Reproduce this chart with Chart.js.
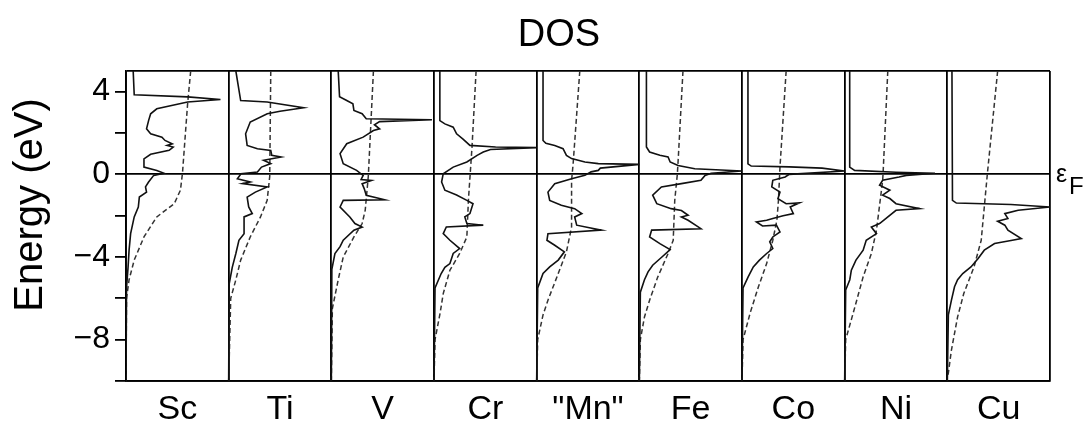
<!DOCTYPE html>
<html>
<head>
<meta charset="utf-8">
<title>DOS</title>
<script src="https://cdn.jsdelivr.net/npm/chart.js@4.4.1/dist/chart.umd.min.js"></script>
<style>
  html, body { margin: 0; padding: 0; background: #fff; }
  #dosChart { display: block; }
</style>
</head>
<body>
<canvas id="dosChart" width="1088" height="424"></canvas>
<script>
// panel names, left to right
const elements = ['Sc', 'Ti', 'V', 'Cr', '"Mn"', 'Fe', 'Co', 'Ni', 'Cu'];
const yTickValues = [-10, -8, -6, -4, -2, 0, 2, 4, 5];

// [energy (eV), DOS as fraction of panel width] - solid curves
const dosSc = [[5, 0.07], [3.85, 0.08], [3.75, 0.6], [3.62, 0.92], [3.5, 0.6], [3.17, 0.3], [2.93, 0.24], [2.6, 0.22], [2.2, 0.2], [1.96, 0.24], [1.8, 0.35], [1.64, 0.38], [1.48, 0.45], [1.4, 0.4], [1.32, 0.46], [1.16, 0.42], [0.97, 0.24], [0.75, 0.175], [0.35, 0.175], [0.19, 0.3], [0.05, 0.37], [-0.05, 0.27], [-0.37, 0.22], [-0.61, 0.19], [-0.86, 0.2], [-1.1, 0.13], [-1.58, 0.12], [-2.06, 0.08], [-2.87, 0.045], [-3.67, 0.03], [-4.5, 0.02], [-5.5, 0.005], [-10, 0]];
const dosTi = [[5, 0.07], [3.57, 0.117], [3.5, 0.375], [3.22, 0.73], [3.05, 0.5], [2.93, 0.376], [2.53, 0.21], [1.96, 0.165], [1.4, 0.18], [1.24, 0.28], [1.16, 0.41], [0.92, 0.42], [0.84, 0.51], [0.68, 0.34], [0.52, 0.41], [0.35, 0.32], [0.11, 0.28], [0.03, 0.12], [-0.21, 0.085], [-0.37, 0.21], [-0.45, 0.135], [-0.61, 0.375], [-0.86, 0.26], [-1.1, 0.18], [-1.58, 0.195], [-1.9, 0.23], [-2.06, 0.15], [-2.87, 0.15], [-3.19, 0.1], [-3.83, 0.07], [-4.5, 0.035], [-5.3, 0.005], [-10, 0]];
const dosV = [[5, 0.067], [3.75, 0.08], [3.57, 0.15], [3.41, 0.21], [3.09, 0.22], [2.93, 0.3], [2.69, 0.34], [2.64, 0.98], [2.55, 0.47], [2.4, 0.42], [2.2, 0.47], [2.12, 0.41], [1.8, 0.31], [1.48, 0.15], [1.0, 0.085], [0.51, 0.116], [0.19, 0.246], [-0.05, 0.31], [-0.25, 0.29], [-0.3, 0.39], [-0.45, 0.3], [-0.69, 0.32], [-1.01, 0.34], [-1.23, 0.52], [-1.26, 0.116], [-1.58, 0.085], [-2.06, 0.18], [-2.38, 0.23], [-2.55, 0.3], [-2.7, 0.22], [-3.19, 0.116], [-3.5, 0.085], [-3.83, 0.035], [-4.6, 0.005], [-10, 0]];
const dosCr = [[5, 0.057], [2.6, 0.057], [2.44, 0.106], [2.28, 0.187], [1.96, 0.22], [1.72, 0.28], [1.4, 0.35], [1.32, 0.6], [1.29, 1.0], [1.2, 0.55], [1.08, 0.48], [0.92, 0.42], [0.6, 0.32], [0.35, 0.187], [0.03, 0.09], [-0.37, 0.074], [-0.77, 0.106], [-1.0, 0.22], [-1.26, 0.32], [-1.42, 0.38], [-1.9, 0.35], [-2.06, 0.3], [-2.38, 0.32], [-2.46, 0.48], [-2.55, 0.12], [-2.87, 0.09], [-3.19, 0.155], [-3.59, 0.25], [-3.83, 0.187], [-4.32, 0.155], [-4.5, 0.106], [-4.8, 0.07], [-5.5, 0.01], [-10, 0]];
const dosMn = [[5, 0.062], [1.64, 0.062], [1.5, 0.09], [1.4, 0.176], [1.24, 0.257], [0.92, 0.29], [0.76, 0.34], [0.6, 0.47], [0.52, 0.6], [0.48, 1.0], [0.3, 0.62], [0.19, 0.6], [0.12, 0.53], [-0.05, 0.47], [-0.21, 0.34], [-0.45, 0.176], [-0.86, 0.11], [-1.26, 0.127], [-1.5, 0.24], [-1.66, 0.37], [-1.9, 0.44], [-2.06, 0.37], [-2.46, 0.39], [-2.7, 0.63], [-2.87, 0.11], [-3.19, 0.1], [-3.43, 0.176], [-3.75, 0.27], [-4.15, 0.21], [-4.48, 0.127], [-4.8, 0.062], [-5.5, 0.01], [-10, 0]];
const dosFe = [[5, 0.069], [1.32, 0.069], [1.08, 0.1], [0.92, 0.2], [0.84, 0.28], [0.6, 0.3], [0.43, 0.377], [0.27, 0.54], [0.16, 1.0], [0.05, 0.7], [-0.05, 0.64], [-0.29, 0.6], [-0.45, 0.41], [-0.61, 0.215], [-1.01, 0.13], [-1.42, 0.17], [-1.66, 0.31], [-1.75, 0.41], [-1.98, 0.475], [-2.06, 0.41], [-2.22, 0.475], [-2.63, 0.6], [-2.7, 0.12], [-3.03, 0.1], [-3.35, 0.2], [-3.64, 0.3], [-4.0, 0.22], [-4.4, 0.13], [-4.72, 0.085], [-5.1, 0.05], [-5.7, 0.01], [-10, 0]];
const dosCo = [[5, 0.058], [0.51, 0.058], [0.4, 0.09], [0.36, 0.46], [0.3, 0.78], [0.16, 1.0], [0.0, 0.46], [-0.13, 0.42], [-0.29, 0.3], [-0.61, 0.29], [-0.86, 0.37], [-1.18, 0.35], [-1.42, 0.43], [-1.38, 0.56], [-1.58, 0.47], [-1.9, 0.5], [-2.0, 0.4], [-2.14, 0.3], [-2.22, 0.24], [-2.3, 0.14], [-2.5, 0.2], [-2.46, 0.335], [-2.79, 0.37], [-3.03, 0.3], [-3.27, 0.27], [-3.59, 0.3], [-3.83, 0.24], [-4.15, 0.17], [-4.48, 0.11], [-4.96, 0.06], [-5.5, 0.01], [-10, 0]];
const dosNi = [[5, 0.049], [0.35, 0.049], [0.19, 0.097], [0.1, 0.5], [0.05, 0.88], [-0.05, 0.6], [-0.13, 0.53], [-0.29, 0.37], [-0.53, 0.34], [-0.77, 0.44], [-1.01, 0.37], [-1.17, 0.44], [-1.42, 0.5], [-1.66, 0.73], [-1.74, 0.5], [-2.14, 0.4], [-2.38, 0.34], [-2.55, 0.26], [-2.87, 0.31], [-3.19, 0.21], [-3.67, 0.18], [-4.15, 0.11], [-4.64, 0.065], [-5.1, 0.05], [-5.6, 0.01], [-10, 0]];
const dosCu = [[5, 0.045], [-1.26, 0.05], [-1.39, 0.088], [-1.46, 0.62], [-1.58, 1.0], [-1.74, 0.69], [-1.9, 0.56], [-2.14, 0.59], [-2.27, 0.49], [-2.46, 0.56], [-2.7, 0.59], [-3.11, 0.72], [-3.2, 0.62], [-3.35, 0.46], [-3.67, 0.36], [-4.07, 0.3], [-4.48, 0.23], [-4.8, 0.15], [-5.1, 0.1], [-5.44, 0.07], [-6.09, 0.04], [-6.8, 0.01], [-10, 0]];

// integrated DOS - dashed curves
const intSc = [[5, 0.63], [3.41, 0.6], [0.05, 0.55], [-0.77, 0.53], [-1.42, 0.47], [-2.06, 0.3], [-3.03, 0.175], [-4.15, 0.08], [-5.1, 0.03], [-6, 0.005], [-10, 0]];
const intTi = [[5, 0.41], [-0.1, 0.4], [-1.26, 0.375], [-2.06, 0.31], [-3.03, 0.21], [-4.15, 0.117], [-5.1, 0.07], [-6, 0.02], [-10, 0]];
const intV = [[5, 0.41], [-0.1, 0.36], [-1.74, 0.33], [-2.38, 0.3], [-3.03, 0.22], [-4.0, 0.116], [-5.1, 0.067], [-6.5, 0.01], [-10, 0]];
const intCr = [[5, 0.41], [1.3, 0.37], [-1.26, 0.335], [-3.03, 0.32], [-3.83, 0.25], [-4.64, 0.155], [-5.77, 0.09], [-6.7, 0.06], [-8, 0.01], [-10, 0]];
const intMn = [[5, 0.42], [0.5, 0.355], [-0.3, 0.34], [-2.55, 0.34], [-3.75, 0.29], [-4.8, 0.21], [-6.09, 0.11], [-6.8, 0.062], [-8, 0.01], [-10, 0]];
const intFe = [[5, 0.425], [0.84, 0.38], [0.0, 0.37], [-1.26, 0.345], [-3.19, 0.33], [-3.83, 0.28], [-4.96, 0.18], [-6.09, 0.1], [-6.9, 0.05], [-8, 0.01], [-10, 0]];
const intCo = [[5, 0.43], [0.35, 0.37], [-1.26, 0.355], [-2.22, 0.34], [-3.19, 0.3], [-4.32, 0.24], [-5.44, 0.16], [-6.7, 0.08], [-8, 0.01], [-10, 0]];
const intNi = [[5, 0.42], [0.03, 0.374], [-0.3, 0.37], [-1.5, 0.34], [-2.7, 0.31], [-3.83, 0.26], [-4.96, 0.18], [-6.41, 0.1], [-8, 0.01], [-10, 0]];
const intCu = [[5, 0.49], [0.03, 0.39], [-1.58, 0.36], [-3.19, 0.33], [-4.48, 0.26], [-5.77, 0.16], [-6.9, 0.1], [-8.5, 0.04], [-9.8, 0.005]];

const dosCurves = [dosSc, dosTi, dosV, dosCr, dosMn, dosFe, dosCo, dosNi, dosCu];
const intCurves = [intSc, intTi, intV, intCr, intMn, intFe, intCo, intNi, intCu];

document.addEventListener('DOMContentLoaded', () => {
    const FONT = "'Liberation Sans', Arial, Helvetica, sans-serif";
    const isInt = v => Math.abs(v - Math.round(v)) < 1e-9;

    // each panel sits in [i, i+1] on the shared x axis
    const toPoints = (curve, i) => curve.map(([e, d]) => ({ x: i + d, y: e }));

    const datasets = [];
    elements.forEach((name, i) => {
        datasets.push({
            label: name + ' DOS',
            data: toPoints(dosCurves[i], i),
            borderColor: '#111',
            borderWidth: 1.6
        });
        datasets.push({
            label: name + ' integrated',
            data: toPoints(intCurves[i], i),
            borderColor: '#333',
            borderWidth: 1.5,
            borderDash: [5, 3]
        });
    });

    const extraText = {
        id: 'extraText',
        afterDraw(chart) {
            const { ctx, chartArea, scales } = chart;
            ctx.save();
            ctx.fillStyle = '#000';

            // title
            ctx.font = '38px ' + FONT;
            ctx.textAlign = 'center';
            ctx.textBaseline = 'alphabetic';
            ctx.fillText('DOS', 559, 46);

            // y axis title
            ctx.save();
            ctx.translate(42, 205);
            ctx.rotate(-Math.PI / 2);
            ctx.font = '40px ' + FONT;
            ctx.textAlign = 'center';
            ctx.fillText('Energy (eV)', 0, 0);
            ctx.restore();

            // Fermi level label
            const y0 = scales.y.getPixelForValue(0);
            ctx.textAlign = 'left';
            ctx.font = '25px ' + FONT;
            ctx.fillText('\u03B5', chartArea.right + 6, y0 + 8);
            ctx.font = '24px ' + FONT;
            ctx.fillText('F', chartArea.right + 19, y0 + 20);
            ctx.restore();
        }
    };

    new Chart(document.getElementById('dosChart'), {
        type: 'scatter',
        data: { datasets },
        options: {
            responsive: false,
            animation: false,
            devicePixelRatio: 1,
            showLine: true,
            elements: { point: { radius: 0, hoverRadius: 0 }, line: { tension: 0 } },
            layout: { padding: { top: 71, right: 38, left: 0, bottom: 0 } },
            plugins: {
                legend: { display: false },
                tooltip: { enabled: false },
                title: { display: false }
            },
            scales: {
                x: {
                    type: 'linear',
                    min: 0,
                    max: elements.length,
                    afterBuildTicks: scale => {
                        const ticks = [];
                        for (let k = 0; k <= elements.length * 2; k++) ticks.push({ value: k / 2 });
                        scale.ticks = ticks;
                    },
                    afterFit: scale => { scale.height = 43; },
                    grid: {
                        color: c => (c.tick && isInt(c.tick.value)) ? '#000' : 'rgba(0,0,0,0)',
                        lineWidth: 1.8,
                        drawTicks: false
                    },
                    border: { color: '#000', width: 1.8 },
                    ticks: {
                        autoSkip: false,
                        maxRotation: 0,
                        padding: 8,
                        color: '#000',
                        font: { family: FONT, size: 34 },
                        callback: v => isInt(v) ? '' : elements[Math.floor(v)]
                    }
                },
                y: {
                    type: 'linear',
                    min: -10,
                    max: 5,
                    afterBuildTicks: scale => {
                        scale.ticks = yTickValues.map(v => ({ value: v }));
                    },
                    afterFit: scale => { scale.width = 126; },
                    grid: {
                        color: c => (c.tick && [5, 0, -10].includes(c.tick.value)) ? '#000' : 'rgba(0,0,0,0)',
                        tickColor: c => (c.tick && c.tick.value === 5) ? 'rgba(0,0,0,0)' : '#000',
                        tickLength: 11,
                        lineWidth: 1.8
                    },
                    border: { color: '#000', width: 1.8 },
                    ticks: {
                        autoSkip: false,
                        padding: 5,
                        color: '#000',
                        font: { family: FONT, size: 32 },
                        callback: v => v % 4 === 0 ? (v < 0 ? '\u2212' + (-v) : String(v)) : ''
                    }
                }
            }
        },
        plugins: [extraText]
    });
});
</script>
</body>
</html>
